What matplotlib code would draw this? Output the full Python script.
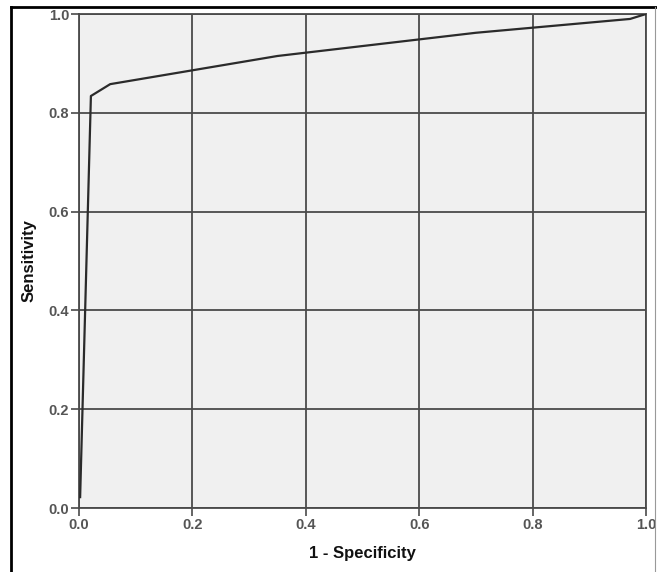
import matplotlib
matplotlib.use("Agg")
import matplotlib.pyplot as plt
from matplotlib.lines import Line2D

# ROC curve points
fpr = [0.002, 0.021, 0.055, 0.35, 0.70, 0.972, 1.0]
tpr = [0.022, 0.834, 0.858, 0.915, 0.962, 0.99, 1.0]
ticks = [0.0, 0.2, 0.4, 0.6, 0.8, 1.0]
tick_labels = ["0.0", "0.2", "0.4", "0.6", "0.8", "1.0"]

plt.rcParams['font.family'] = ['Liberation Sans', 'DejaVu Sans']

fig = plt.figure(figsize=(6.57, 5.72), dpi=100)
ax = fig.add_axes([79/657, 1 - 508/572, 567/657, 494/572])
ax.set_facecolor('#f0f0f0')

ax.plot(fpr, tpr, color='#2b2b2b', lw=1.6, zorder=3)

ax.set_xlim(0, 1)
ax.set_ylim(0, 1)
ax.set_xticks(ticks)
ax.set_xticklabels(tick_labels)
ax.set_yticks(ticks)
ax.set_yticklabels(tick_labels)
ax.grid(True, color='#4a4a4a', lw=1.3, zorder=1)
ax.set_axisbelow(True)
for s in ax.spines.values():
    s.set_color('#4a4a4a')
    s.set_linewidth(1.3)
ax.tick_params(direction='out', length=6, width=1.2, color='#4a4a4a',
               labelcolor='#555555', labelsize=10.5, pad=1)
for lab in ax.get_xticklabels() + ax.get_yticklabels():
    lab.set_fontweight('bold')

ax.set_xlabel('1 - Specificity', fontsize=12, fontweight='bold', color='#111111', labelpad=10)
ax.set_ylabel('Sensitivity', fontsize=12, fontweight='bold', color='#111111', labelpad=9)

# outer frame
fig.add_artist(Line2D([11/657, 11/657], [0, 1 - 7/572], transform=fig.transFigure, color='black', lw=2))
fig.add_artist(Line2D([11/657, 1], [1 - 7/572, 1 - 7/572], transform=fig.transFigure, color='black', lw=2))
fig.add_artist(Line2D([655/657, 655/657], [0, 1 - 7/572], transform=fig.transFigure, color='#999999', lw=0.8))

fig.savefig('out.png', dpi=100)
